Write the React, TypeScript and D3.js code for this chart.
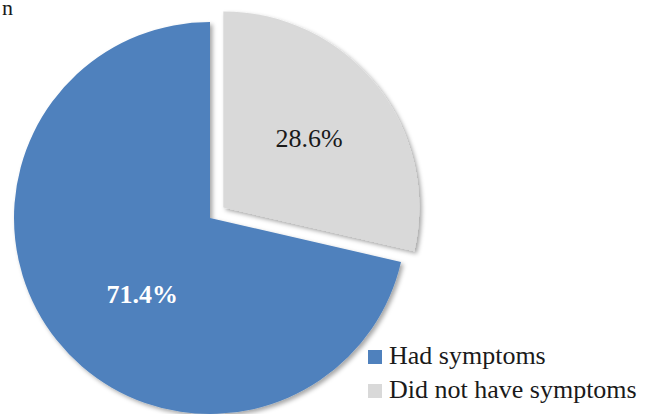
import React from 'react';
import * as d3 from 'd3';

// slice data, legend order
const categories = ['Had symptoms', 'Did not have symptoms'];
const values = [71.4, 28.6];
const colors = ['#4F81BD', '#D9D9D9'];
const labelColors = ['#ffffff', '#1a1a1a'];
const labelWeights = ['bold', 'normal'];

const W = 645;
const H = 414;
const cx = 210;
const cy = 218;
const r = 196;
const explode = [0, 17];

const serif = '"Liberation Serif", "DejaVu Serif", serif';

export default function App() {
    const total = d3.sum(values);
    const startA = (2 * Math.PI * values[1]) / total;
    const pie = d3.pie<number>().sort(null).startAngle(startA).endAngle(startA + 2 * Math.PI);
    const arcs = pie(values);
    const arc = d3.arc<d3.PieArcDatum<number>>().innerRadius(0).outerRadius(r);
    const labelArc = d3.arc<d3.PieArcDatum<number>>().innerRadius(r * 0.54).outerRadius(r * 0.54);

    return (
        <div style={{ position: 'fixed', left: 0, top: 0 }}>
            <svg width={W} height={H} style={{ display: 'block', background: '#fff' }}>
                <defs>
                    <filter id="shadow" x="-10%" y="-10%" width="130%" height="130%">
                        <feDropShadow dx="2.5" dy="2.5" stdDeviation="2" floodColor="#000" floodOpacity="0.35" />
                    </filter>
                </defs>
                <text x={13} y={15} textAnchor="end" fontFamily={serif} fontSize={22} fill="#1a1a1a">n</text>
                {arcs.map((a, i) => {
                    const mid = (a.startAngle + a.endAngle) / 2;
                    const dx = Math.sin(mid) * explode[i];
                    const dy = -Math.cos(mid) * explode[i];
                    const [lx, ly] = labelArc.centroid(a);
                    const adj = i === 0 ? [15, 11] : [3, -3];
                    return (
                        <g key={categories[i]} transform={`translate(${cx + dx},${cy + dy})`}>
                            <path d={arc(a) || ''} fill={colors[i]} filter="url(#shadow)" />
                            <text
                                x={lx + adj[0]}
                                y={ly + adj[1]}
                                textAnchor="middle"
                                dominantBaseline="central"
                                fontFamily={serif}
                                fontSize={26}
                                fontWeight={labelWeights[i]}
                                fill={labelColors[i]}
                            >
                                {values[i].toFixed(1)}%
                            </text>
                        </g>
                    );
                })}
                <g transform="translate(368,350)">
                    {categories.map((c, i) => (
                        <g key={c} transform={`translate(0,${i * 34})`}>
                            <rect width={14} height={14} fill={colors[i]} />
                            <text x={21} y={14} fontFamily={serif} fontSize={26} fill="#1a1a1a">{c}</text>
                        </g>
                    ))}
                </g>
            </svg>
        </div>
    );
}
